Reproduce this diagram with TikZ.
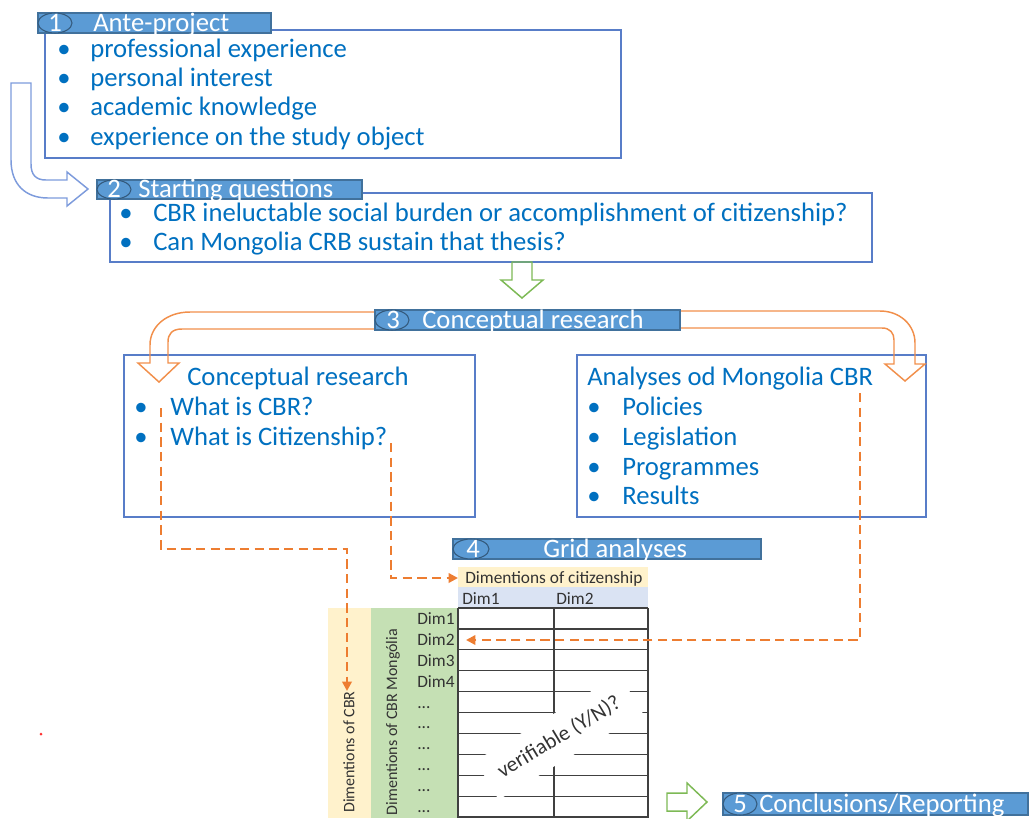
\documentclass[tikz,border=0pt]{standalone}
\usepackage{fontspec}
\setmainfont{Carlito}
\usetikzlibrary{positioning,arrows.meta,shapes.geometric}
\definecolor{txtblue}{RGB}{0,112,192}
\definecolor{boxblue}{RGB}{88,125,200}
\definecolor{barfill}{RGB}{91,155,213}
\definecolor{barline}{RGB}{65,113,156}
\definecolor{uturn}{RGB}{125,155,220}
\definecolor{orline}{RGB}{241,143,75}
\definecolor{dashor}{RGB}{237,125,49}
\definecolor{grline}{RGB}{125,185,85}
\definecolor{cellyel}{RGB}{255,242,204}
\definecolor{cellblu}{RGB}{218,227,243}
\definecolor{cellgrn}{RGB}{197,224,180}
\tikzset{
stagebox/.style={draw=boxblue, line width=1.1pt}, % frame of every stage
bar/.style={draw=barline, fill=barfill, line width=0.8pt}, % the header bars
ring/.style={draw=barline!80!black, fill=barfill, line width=0.8pt}, % the number ellipse
bartext/.style={font=\fontsize{20}{22}\selectfont, text=white, anchor=base west, inner sep=0pt},
item/.style={font=\fontsize{20}{22}\selectfont, text=txtblue, anchor=base west, inner sep=0pt},
cell/.style={font=\fontsize{13}{15}\selectfont, text=black!80, anchor=base west, inner sep=0pt},
sidecell/.style={font=\fontsize{12}{14}\selectfont, text=black!80, anchor=center, inner sep=0pt, rotate=90},
hollow/.style={line width=1.1pt, line join=miter}, % outline arrows
link/.style={draw=dashor, line width=2.1pt, dash pattern=on 7pt off 4pt, -{Triangle[length=7pt,width=7pt]}}, % dashed connectors
}
\begin{document}
\begin{tikzpicture}[x=0.75pt,y=-0.75pt]
\useasboundingbox (0,0) rectangle (1030,818);

% stage 1
\draw[stagebox] (45,30) rectangle (621,158);
\draw[bar] (38,13) rectangle (271,33);
\draw[ring] (55,23) ellipse (17 and 10);
\node[bartext] (n1) at (48,31) {1};
\node[bartext] (t1) at (93,31) {Ante-project};
\foreach \y/\txt [count=\i] in {57/professional experience, 86/personal interest, 115/academic knowledge, 145/experience on the study object}{
  \node[item] (b1\i) at (57,\y) {\textbullet};
  \node[item] (a1\i) at (90,\y) {\txt};
}

% arrow 1 -> 2
\draw[hollow, draw=uturn] (31,83) -- (31,164) .. controls (31,175) and (36,180) .. (46,180)
  -- (67,180) -- (67,172) -- (88,189) -- (67,206) -- (67,198) -- (48,198)
  .. controls (25,198) and (11,184) .. (11,160) -- (11,83) -- cycle;

% stage 2
\draw[stagebox] (110,193) rectangle (872,262);
\draw[bar] (97,180) rectangle (362,199);
\draw[ring] (114,189.5) ellipse (17 and 9.5);
\node[bartext] (n2) at (107,197) {2};
\node[bartext] (t2) at (138,197) {Starting questions};
\node[item] (b21) at (119,221) {\textbullet};
\node[item] (a21) at (153,221) {CBR ineluctable social burden or accomplishment of citizenship?};
\node[item] (b22) at (119,250) {\textbullet};
\node[item] (a22) at (153,250) {Can Mongolia CRB sustain that thesis?};

% arrow 2 -> 3
\draw[hollow, draw=grline] (512,262) -- (512,280) -- (501,280) -- (522,298) -- (543,280) -- (532,280) -- (532,262) -- cycle;

% stage 3
\draw[stagebox] (124,355) rectangle (475,517);
\draw[stagebox] (577,355) rectangle (926,517);
\draw[hollow, draw=orline] (376,312) -- (190,312) .. controls (167,312) and (150,326) .. (150,345)
  -- (150,363) -- (138,363) -- (159,382) -- (179,363) -- (168,363) -- (168,342)
  .. controls (168,334) and (172,329) .. (182,329) -- (376,329);
\draw[hollow, draw=orline] (679,311) -- (880,311) .. controls (900,311) and (915,325) .. (915,343)
  -- (915,364) -- (925,364) -- (905,381) -- (885,364) -- (894,364) -- (894,340)
  .. controls (894,333) and (890,328) .. (882,328) -- (679,328);
\draw[bar] (375,310) rectangle (680,330);
\draw[ring] (392,320) ellipse (17 and 10);
\node[bartext] (n3) at (386,328) {3};
\node[bartext] (t3) at (422,328) {Conceptual research};

\node[item] (h3a) at (187,385) {Conceptual research};
\node[item] (b3a1) at (134,415) {\textbullet};
\node[item] (cbrq) at (170,415) {What is CBR?};
\node[item] (b3a2) at (134,445) {\textbullet};
\node[item] (citq) at (170,445) {What is Citizenship?};

\node[item] (h3b) at (587,385) {Analyses od Mongolia CBR};
\foreach \y/\txt [count=\i] in {415/Policies, 445/Legislation, 475/Programmes, 504/Results}{
  \node[item] (b3b\i) at (587,\y) {\textbullet};
  \node[item] (a3b\i) at (622,\y) {\txt};
}

% stage 4
\draw[bar] (453,539) rectangle (761,559);
\draw[ring] (471,549) ellipse (18 and 10);
\node[bartext] (n4) at (466,557) {4};
\node[bartext] (t4) at (543,557) {Grid analyses};

% the grid
\fill[cellyel] (458,567) rectangle (648,587);
\fill[cellblu] (458,587) rectangle (648,607);
\fill[cellyel] (328,608) rectangle (371,818);
\fill[cellgrn] (371,608) rectangle (458,818);
\node[cell] (citz) at (465,583) {Dimentions of citizenship};
\node[cell] (c1) at (462,604) {Dim1};
\node[cell] (c2) at (556,604) {Dim2};
\foreach \i in {0,...,10}
  \draw[black!75, line width=0.9pt] (458,{608+20.9*\i}) -- (648,{608+20.9*\i});
\foreach \x in {458,554,648}
  \draw[black!75, line width=0.9pt] (\x,608) -- (\x,818);
\foreach \i in {1,...,4}
  \node[cell] (r\i) at (417,{603.5+20.9*\i}) {Dim\i};
\foreach \i in {5,...,10}
  \node[cell] (r\i) at (417,{603.5+20.9*\i}) {...};
\node[sidecell] (dcbr) at (349,752) {Dimentions of CBR};
\node[sidecell] (dmon) at (393,722) {Dimentions of CBR Mongólia};
\node[fill=white, rotate=31, minimum width=126pt, minimum height=34pt, inner sep=0pt,
  font=\fontsize{16}{18}\selectfont, text=black!80] (verif) at (559,737) {verifiable (Y/N)?};

% dashed links
\coordinate (s1) at (161,408);
\coordinate (e1) at (347,691);
\coordinate (s2) at (391,443);
\coordinate (e2) at (458,578);
\coordinate (s3) at (860,393);
\coordinate (e3) at (466,640);
\draw[link] (s1) -- (161,549) -| (e1);
\draw[link] (s2) |- (e2);
\draw[link] (s3) |- (e3);

% stage 5
\draw[hollow, draw=grline] (667,793) -- (687,793) -- (687,783) -- (707,802) -- (687,821) -- (687,811) -- (667,811) -- cycle;
\draw[bar] (723,793) rectangle (1028,815);
\draw[ring] (740,804) ellipse (17 and 11);
\node[bartext] (n5) at (733,812) {5};
\node[bartext] (t5) at (759,812) {Conclusions/Reporting};

\fill[red!80] (41,734) circle (1.5);
\end{tikzpicture}
\end{document}
